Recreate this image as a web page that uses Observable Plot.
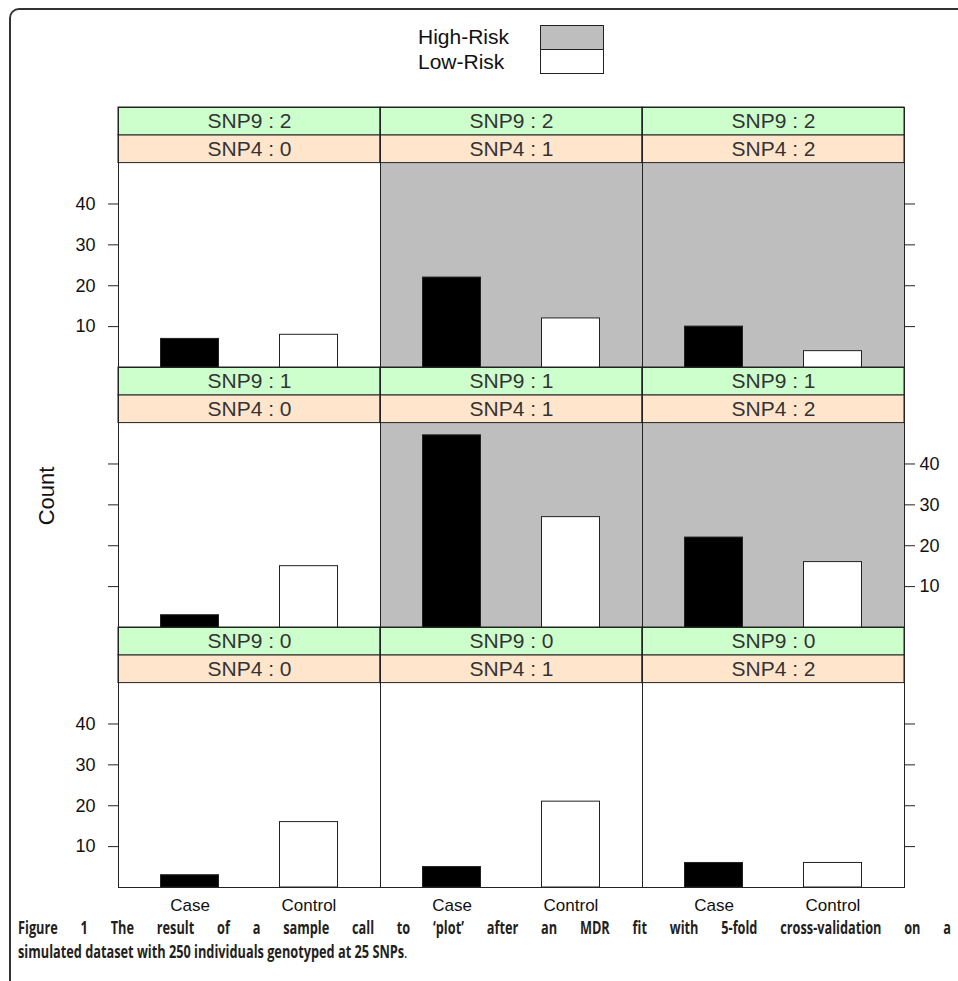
<!DOCTYPE html>
<html>
<head>
<meta charset="utf-8">
<script src="https://cdn.jsdelivr.net/npm/d3@7"></script>
<script src="https://cdn.jsdelivr.net/npm/@observablehq/plot@0.6"></script>
<style>
  html, body { margin: 0; padding: 0; background: #fff; }
  #page { position: relative; width: 958px; height: 981px; overflow: hidden; background: #fff; }
  #border { position: absolute; left: 9px; top: 8px; width: 1000px; height: 1000px;
            border-left: 2px solid #333; border-top: 2px solid #333; border-top-left-radius: 10px; }
  #legend { position: absolute; left: 0; top: 0; width: 958px; height: 96px;
            font-family: "Liberation Sans", Arial, sans-serif; font-size: 21px; color: #111; }
  .lg-text { position: absolute; left: 418px; height: 24.5px; line-height: 24.5px; white-space: nowrap; }
  .lg-box { position: absolute; left: 540px; width: 64px; height: 25px; box-sizing: border-box; border: 1.3px solid #222; }
  #chart { position: absolute; left: 0; top: 96px; }
  #caption { position: absolute; left: 18px; top: 919px; width: 1244px; color: #231f20;
             transform: scaleX(0.75); transform-origin: 0 0;
             font-family: "Open Sans", "Noto Sans", sans-serif; font-weight: 700;
             font-size: 17px; line-height: 17px; }
  #caption .l1 { text-align: justify; text-align-last: justify; height: 24px; }
  #caption .dot { font-weight: 400; }
</style>
</head>
<body>
<div id="page">
  <div id="border"></div>
  <div id="legend"></div>
  <div id="chart"></div>
  <div id="caption">
    <div class="l1">Figure 1 The result of a sample call to ‘plot’ after an MDR fit with 5-fold cross-validation on a</div>
    <div class="l2">simulated dataset with 250 individuals genotyped at 25 SNPs<span class="dot">.</span></div>
  </div>
</div>
<script>
// ---- data ----
const snp4Levels = [0, 1, 2];          // columns (left to right)
const snp9Levels = [2, 1, 0];          // rows (top to bottom)
const groups = ["Case", "Control"];
const caseSnp9_2 = [7, 22, 10];
const caseSnp9_1 = [3, 47, 22];
const caseSnp9_0 = [3, 5, 6];
const controlSnp9_2 = [8, 12, 4];
const controlSnp9_1 = [15, 27, 16];
const controlSnp9_0 = [16, 21, 6];
const highRiskSnp9_2 = [false, true, true];
const highRiskSnp9_1 = [false, true, true];
const highRiskSnp9_0 = [false, false, false];
const yTicks = [10, 20, 30, 40];
const legendLabels = ["High-Risk", "Low-Risk"];
const legendFills = ["#bebebe", "#ffffff"];

// ---- layout constants (in y data units) ----
const panelMax = 50;
const stripH = 6.8;

const caseRows = [caseSnp9_2, caseSnp9_1, caseSnp9_0];
const controlRows = [controlSnp9_2, controlSnp9_1, controlSnp9_0];
const riskRows = [highRiskSnp9_2, highRiskSnp9_1, highRiskSnp9_0];

const bars = [];
const cells = [];
snp9Levels.forEach((s9, r) => {
  snp4Levels.forEach((s4, c) => {
    bars.push({snp9: s9, snp4: s4, group: "Case", count: caseRows[r][c]});
    bars.push({snp9: s9, snp4: s4, group: "Control", count: controlRows[r][c]});
    cells.push({snp9: s9, snp4: s4, high: riskRows[r][c]});
  });
});

const leftLabelled = [], leftPlain = [], rightLabelled = [], rightPlain = [];
snp9Levels.forEach((s9, r) => {
  yTicks.forEach(v => {
    const d = {v, row: s9};
    if (r % 2 === 0) { leftLabelled.push(d); rightPlain.push(d); }
    else { leftPlain.push(d); rightLabelled.push(d); }
  });
});

// ---- legend ----
const legend = document.getElementById("legend");
legendLabels.forEach((lab, i) => {
  const t = document.createElement("div");
  t.className = "lg-text";
  t.style.top = (25 + i * 24.5) + "px";
  t.textContent = lab;
  legend.appendChild(t);
  const b = document.createElement("div");
  b.className = "lg-box";
  b.style.top = (25 + i * 23.8) + "px";
  b.style.background = legendFills[i];
  legend.appendChild(b);
});

const ink = "#222";
const fp = {fx: "snp4", fy: "snp9"};

const chart = Plot.plot({
  width: 958,
  height: 821,
  marginTop: 10.5,
  marginBottom: 30.5,
  marginLeft: 116.5,
  marginRight: 53,
  style: {fontFamily: "'Liberation Sans', Arial, sans-serif", background: "transparent", color: "#111", overflow: "visible"},
  fx: {domain: snp4Levels, padding: 0, axis: null},
  fy: {domain: snp9Levels, padding: 0, axis: null},
  x: {type: "band", domain: groups, paddingInner: 0.51, paddingOuter: 0.355, axis: null},
  y: {domain: [0, panelMax + 2 * stripH], axis: null},
  color: {domain: groups, range: ["#000000", "#ffffff"]},
  marks: [
    // high-risk panel backgrounds
    Plot.rect(cells.filter(d => d.high), {...fp, y1: () => 0, y2: () => panelMax, fill: "#bebebe"}),
    // strips
    Plot.rect(cells, {...fp, y1: () => panelMax, y2: () => panelMax + stripH, fill: "#ffe5cc", stroke: ink, strokeWidth: 1}),
    Plot.rect(cells, {...fp, y1: () => panelMax + stripH, y2: () => panelMax + 2 * stripH, fill: "#ccffcc", stroke: ink, strokeWidth: 1}),
    Plot.text(cells, {...fp, y: () => panelMax + stripH / 2, text: d => `SNP4 : ${d.snp4}`, fontSize: 21, fill: "#333"}),
    Plot.text(cells, {...fp, y: () => panelMax + 1.5 * stripH, text: d => `SNP9 : ${d.snp9}`, fontSize: 21, fill: "#333"}),
    // bars
    Plot.barY(bars, {...fp, x: "group", y: "count", fill: "group", stroke: ink, strokeWidth: 1}),
    Plot.frame({stroke: ink, strokeWidth: 1}),
    // y axes (alternating like lattice)
    Plot.axisY(leftLabelled, {y: "v", fy: "row", anchor: "left", tickSize: 10, tickPadding: 13, fontSize: 18, stroke: ink, fill: "#111", text: d => String(d.v)}),
    Plot.axisY(leftPlain, {y: "v", fy: "row", anchor: "left", tickSize: 10, stroke: ink, fill: "none", text: d => String(d.v)}),
    Plot.axisY(rightLabelled, {y: "v", fy: "row", anchor: "right", tickSize: 10, tickPadding: 5, fontSize: 18, stroke: ink, fill: "#111", text: d => String(d.v)}),
    Plot.axisY(rightPlain, {y: "v", fy: "row", anchor: "right", tickSize: 10, stroke: ink, fill: "none", text: d => String(d.v)}),
    // x axis labels
    Plot.axisX({anchor: "bottom", tickSize: 0, tickPadding: 11, fontSize: 17, fill: "#111", label: null}),
    // y label
    Plot.text(["Count"], {fx: [snp4Levels[0]], fy: [snp9Levels[1]], y: () => panelMax / 2, frameAnchor: "left", dx: -72, rotate: -90, fontSize: 22, fill: "#111"})
  ]
});
document.getElementById("chart").appendChild(chart);
</script>
</body>
</html>
